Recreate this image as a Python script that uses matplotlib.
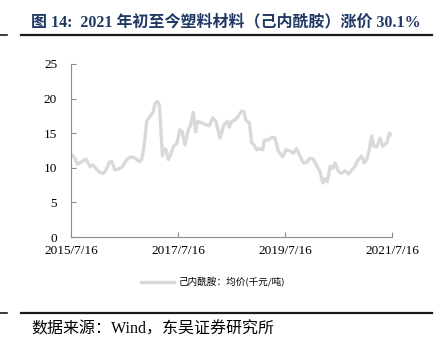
import numpy as np
import pandas as pd
import matplotlib
matplotlib.use("Agg")
import matplotlib.pyplot as plt
import matplotlib.dates as mdates
from matplotlib.lines import Line2D

plt.rcParams['font.family'] = ['Liberation Serif', 'Noto Sans CJK SC', 'DejaVu Sans']

# 己内酰胺均价 (千元/吨)
dates = [
    "2015-07-16", "2015-08-12", "2015-08-28", "2015-09-27", "2015-10-26", "2015-11-07",
    "2015-11-23", "2015-12-11", "2016-01-07", "2016-01-30", "2016-02-22", "2016-03-11",
    "2016-04-03", "2016-04-19", "2016-05-11", "2016-06-03", "2016-07-03", "2016-07-30",
    "2016-08-26", "2016-09-25", "2016-10-25", "2016-11-10", "2016-11-26", "2016-12-14",
    "2017-01-05", "2017-01-28", "2017-02-09", "2017-02-25", "2017-03-10", "2017-03-19",
    "2017-03-31", "2017-04-11", "2017-04-25", "2017-05-11", "2017-05-27", "2017-06-14",
    "2017-07-07", "2017-07-29", "2017-08-14", "2017-09-01", "2017-09-24", "2017-10-10",
    "2017-10-28", "2017-11-13", "2017-11-25", "2017-12-24", "2018-01-23", "2018-02-15",
    "2018-03-09", "2018-04-01", "2018-04-28", "2018-05-26", "2018-06-18", "2018-07-01",
    "2018-07-17", "2018-08-09", "2018-09-01", "2018-09-23", "2018-10-09", "2018-10-23",
    "2018-11-15", "2018-12-01", "2018-12-17", "2019-01-04", "2019-01-22", "2019-02-14",
    "2019-02-25", "2019-03-25", "2019-04-16", "2019-05-09", "2019-06-01", "2019-06-30",
    "2019-07-23", "2019-08-24", "2019-09-11", "2019-10-04", "2019-10-27", "2019-11-19",
    "2019-12-11", "2020-01-03", "2020-01-26", "2020-02-18", "2020-03-11", "2020-03-30",
    "2020-04-15", "2020-04-30", "2020-05-19", "2020-06-06", "2020-06-22", "2020-07-15",
    "2020-08-06", "2020-08-29", "2020-09-21", "2020-10-14", "2020-11-05", "2020-11-28",
    "2020-12-21", "2021-01-06", "2021-01-24", "2021-02-11", "2021-02-27", "2021-03-15",
    "2021-04-02", "2021-04-25", "2021-05-13", "2021-06-10", "2021-06-28", "2021-07-09",
]
prices = [
    12.0, 11.4, 10.5, 10.9, 11.25, 10.8,
    10.2, 10.4, 9.8, 9.3, 9.2, 9.7,
    10.8, 10.9, 9.7, 9.8, 10.2, 11.2,
    11.6, 11.4, 10.9, 11.2, 13.1, 16.7,
    17.4, 18.1, 19.3, 19.6, 19.1, 16.4,
    11.7, 12.8, 12.6, 11.2, 11.9, 13.1,
    13.5, 15.5, 15.2, 13.3, 15.5, 16.2,
    18.0, 15.2, 16.7, 16.5, 16.2, 16.1,
    17.2, 16.7, 14.3, 16.2, 16.7, 15.9,
    16.7, 16.9, 17.5, 18.2, 18.1, 16.8,
    16.5, 13.6, 13.3, 12.6, 12.8, 12.6,
    14.0, 14.0, 14.4, 14.3, 12.4, 11.6,
    12.6, 12.4, 12.1, 12.8, 11.7, 10.7,
    10.8, 11.4, 11.25, 10.3, 9.5, 7.8,
    8.4, 8.0, 10.2, 9.95, 10.7, 9.5,
    9.2, 9.6, 9.1, 9.7, 10.2, 11.2,
    11.7, 10.7, 11.2, 12.6, 14.6, 13.1,
    13.0, 14.3, 13.1, 13.6, 15.0, 14.8,
]
x_ticks = ["2015-07-16", "2017-07-16", "2019-07-16", "2021-07-16"]
y_ticks = [0, 5, 10, 15, 20, 25]

title = "图 14:  2021 年初至今塑料材料（己内酰胺）涨价 30.1%"
series_name = "己内酰胺：均价(千元/吨)"
source = "数据来源：Wind，东吴证券研究所"

x = pd.to_datetime(dates)
ticks = pd.to_datetime(x_ticks)

fig = plt.figure(figsize=(4.47, 3.49), dpi=100)
ax = fig.add_axes([71 / 447, 1 - 237 / 349, 321 / 447, 173 / 349])

ax.plot(x, prices, color="#d9d9d9", lw=2.4, solid_joinstyle="round")

ax.set_xlim(ticks[0], ticks[-1])
ax.set_ylim(0, 25)
ax.set_xticks(ticks)
ax.xaxis.set_major_formatter(mdates.DateFormatter("%Y/%-m/%d"))
ax.set_yticks(y_ticks)

for s in ["top", "right"]:
    ax.spines[s].set_visible(False)
for s in ["left", "bottom"]:
    ax.spines[s].set_color("#8c8c8c")
    ax.spines[s].set_linewidth(0.8)
ax.tick_params(axis="both", direction="in", length=3.5, width=0.8, color="#8c8c8c",
               labelsize=9.5, labelcolor="black")
ax.tick_params(axis="y", pad=10)
ax.tick_params(axis="x", pad=6)

handle = Line2D([], [], color="#d9d9d9", lw=2.4)
fig.legend([handle], [series_name], loc="center", bbox_to_anchor=(213 / 447, 1 - 282 / 349),
           frameon=False, handlelength=3.4, handletextpad=0.5,
           prop={"family": ["Noto Sans CJK SC"], "size": 6.9})

fig.text(31 / 447, 1 - 22 / 349, title, ha="left", va="center", fontsize=11.5,
         fontweight="bold", color="#1f3864")
fig.text(31 / 447, 1 - 330 / 349, source, ha="left", va="center", fontsize=11.5,
         family=["Liberation Serif", "Noto Sans CJK SC"])

# rules above and below the chart block
for yy in (35, 313):
    yf = 1 - yy / 349
    fig.add_artist(Line2D([21 / 447, 432 / 447], [yf, yf], color="#1a1a1a", lw=1.6))
    fig.add_artist(Line2D([0, 7 / 447], [yf, yf], color="#1a1a1a", lw=1.2))

fig.savefig("out.png", dpi=100)
